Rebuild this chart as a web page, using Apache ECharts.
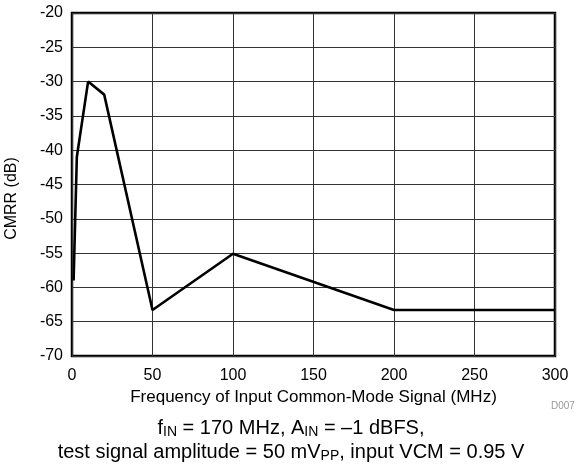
<!DOCTYPE html>
<html><head><meta charset="utf-8">
<script src="https://cdn.jsdelivr.net/npm/echarts@6/dist/echarts.min.js"></script>
<style>html,body{margin:0;padding:0;background:#fff}#c{width:582px;height:469px}</style>
</head><body><div id="c"></div>
<script>
const freqMHz = [1, 3, 10, 20, 50, 100, 200, 300];
const cmrrDb = [-59, -41, -30, -31.9, -63.3, -55.1, -63.3, -63.3];
const xTicks = [0, 50, 100, 150, 200, 250, 300];
const yTicks = [-70, -65, -60, -55, -50, -45, -40, -35, -30, -25, -20];

const font = 'Liberation Sans, Arial, sans-serif';
const chart = echarts.init(document.getElementById('c'));
chart.setOption({
  animation: false,
  backgroundColor: '#fff',
  grid: { left: 72, right: 27, top: 13, bottom: 113, containLabel: false, outerBoundsMode: 'none',
    show: true, borderColor: '#000', borderWidth: 2.5 },
  xAxis: {
    type: 'value', min: xTicks[0], max: xTicks[xTicks.length-1], interval: 50,
    axisLine: { show: false }, axisTick: { show: false },
    splitLine: { show: true, lineStyle: { color: '#333', width: 1 } },
    axisLabel: { color: '#000', fontFamily: font, fontSize: 16, margin: 12 },
    name: 'Frequency of Input Common-Mode Signal (MHz)', nameLocation: 'middle', nameGap: 29,
    nameTextStyle: { color: '#000', fontFamily: font, fontSize: 17 }
  },
  yAxis: {
    type: 'value', min: yTicks[0], max: yTicks[yTicks.length-1], interval: 5,
    axisLine: { show: false }, axisTick: { show: false },
    splitLine: { show: true, lineStyle: { color: '#333', width: 1 } },
    axisLabel: { color: '#000', fontFamily: font, fontSize: 16, margin: 9 },
    name: 'CMRR (dB)', nameLocation: 'middle', nameGap: 52, nameRotate: 90,
    nameTextStyle: { color: '#000', fontFamily: font, fontSize: 16, padding: [0, 28, 0, 0] }
  },
  series: [{
    type: 'line', data: freqMHz.map((f, i) => [f, cmrrDb[i]]),
    showSymbol: false, lineStyle: { color: '#000', width: 2.6 }
  }],
  graphic: [
    { type: 'text', left: 551, top: 401, style: { text: 'D007', fill: '#999', font: '10px ' + font } },
    { type: 'text', left: 'center', top: 418, style: {
        text: '{n|f}{s|IN}{n| = 170 MHz, A}{s|IN}{n| = \u20131 dBFS,}',
        rich: { n: { fontSize: 20, fontFamily: font, fill: '#000' }, s: { fontSize: 14, fontFamily: font, fill: '#000', padding: [9,0,0,0] } } } },
    { type: 'text', left: 'center', top: 442, style: {
        text: '{n|test signal amplitude = 50 mV}{s|PP}{n|, input VCM = 0.95 V}',
        rich: { n: { fontSize: 20, fontFamily: font, fill: '#000' }, s: { fontSize: 14, fontFamily: font, fill: '#000', padding: [9,0,0,0] } } } }
  ]
});
</script></body></html>
